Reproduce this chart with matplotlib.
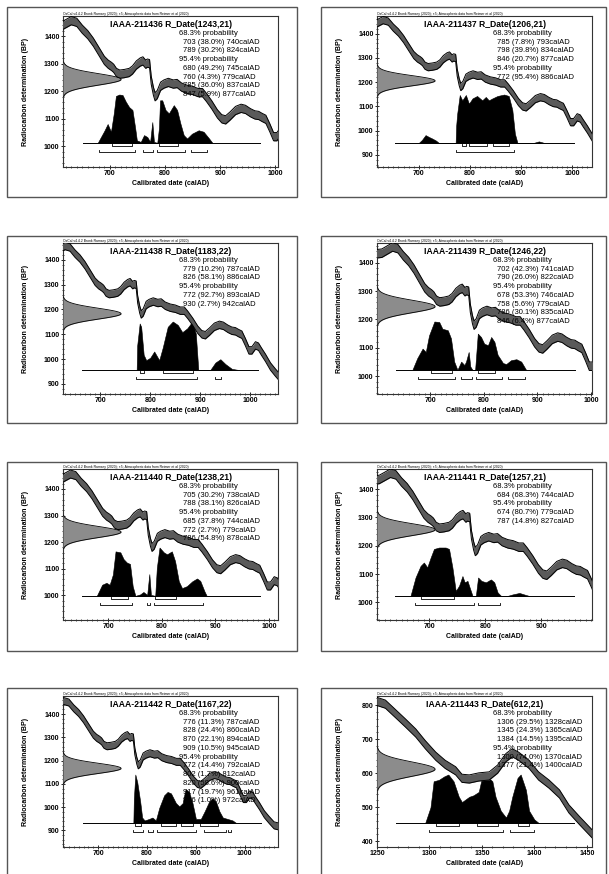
import numpy as np
import matplotlib
matplotlib.use("Agg")
import matplotlib.pyplot as plt
from matplotlib.patches import Rectangle
from matplotlib.ticker import MultipleLocator

plt.rcParams['font.family'] = ['Liberation Sans', 'DejaVu Sans']

# IntCal20 calibration curve, calAD / BP
cal_ad = [600, 610, 620, 630, 640, 650, 660, 670, 680, 690, 697, 703, 707, 712, 718,
          726, 735, 741, 748, 755, 760, 765, 768, 772, 775, 779, 782, 786, 792, 798,
          806, 815, 822, 830, 840, 850, 860, 868, 875, 885, 895, 903, 910, 918, 928,
          938, 946, 955, 963, 970, 976, 983, 990, 997, 1003, 1010, 1016, 1022, 1030,
          1040, 1050, 1060, 1068]
cal_bp = [1432, 1434, 1445, 1456, 1450, 1425, 1405, 1378, 1345, 1312, 1298, 1290, 1283,
          1268, 1262, 1264, 1268, 1277, 1295, 1306, 1310, 1298, 1302, 1300, 1240, 1200,
          1180, 1188, 1218, 1226, 1232, 1226, 1228, 1215, 1207, 1203, 1195, 1195, 1178,
          1150, 1118, 1100, 1096, 1110, 1130, 1138, 1134, 1122, 1114, 1112, 1105, 1098,
          1068, 1035, 1035, 1055, 1050, 1030, 1005, 970, 945, 922, 918]
cal_err = 15

cal2_ad = [1250, 1258, 1267, 1277, 1287, 1296, 1306, 1315, 1325, 1331, 1338, 1347, 1357,
           1365, 1373, 1379, 1385, 1395, 1404, 1414, 1424, 1433, 1443, 1455]
cal2_bp = [811, 803, 777, 748, 718, 684, 650, 626, 607, 585, 583, 589, 592, 612, 646, 660,
           650, 626, 592, 568, 539, 495, 461, 422]
cal2_err = 12

lab_codes = ['IAAA-211436', 'IAAA-211437', 'IAAA-211438', 'IAAA-211439',
             'IAAA-211440', 'IAAA-211441', 'IAAA-211442', 'IAAA-211443']
c14_age = [1243, 1206, 1183, 1246, 1238, 1257, 1167, 612]
c14_err = [21, 21, 22, 22, 21, 21, 22, 21]

x_lims = [(615, 1005), (618, 1039), (626, 1055), (601, 1002),
          (616, 1017), (606, 991), (628, 1068), (1250, 1455)]
y_lims = [(925, 1473), (850, 1473), (859, 1468), (937, 1470),
          (907, 1475), (938, 1471), (829, 1478), (383, 827)]
base_span = [(651, 973), (654, 1004), (664, 1016), (636, 970),
             (652, 984), (639, 959), (669, 1034), (1268, 1438)]

# calibrated probability distributions (relative height)
p1_ad = [678, 690, 696, 702, 707, 711, 717, 723, 729, 735, 741, 746, 749, 756, 762, 768,
         773, 777, 780, 786, 789, 791, 795, 801, 807, 816, 822, 828, 834, 840, 849, 861,
         870, 880, 886]
p1_pd = [0, 0.25, 0.39, 0.23, 0.6, 0.97, 1.0, 0.99, 0.85, 0.74, 0.68, 0.3, 0.05, 0.02,
         0.16, 0.12, 0.02, 0.43, 0.02, 0, 0.3, 0.88, 0.88, 0.68, 0.61, 0.78, 0.68, 0.40,
         0.16, 0.09, 0.19, 0.26, 0.23, 0.09, 0]
p2_ad = [700, 706, 713, 720, 726, 733, 739, 772, 773, 775, 780, 785, 792, 798, 805, 814,
         824, 831, 837, 844, 854, 867, 876, 883, 888, 893, 925, 935, 945]
p2_pd = [0, 0.06, 0.16, 0.12, 0.09, 0.05, 0, 0, 0.35, 0.6, 0.99, 0.88, 0.99, 0.81, 0.92,
         0.97, 0.88, 0.95, 0.88, 0.92, 0.97, 1.0, 0.97, 0.68, 0.19, 0, 0, 0.03, 0]
p3_ad = [773, 774, 779, 782, 787, 792, 800, 808, 818, 825, 835, 845, 855, 864, 874, 884,
         891, 896, 920, 930, 940, 950, 963, 975]
p3_pd = [0, 0.5, 0.96, 0.89, 0.31, 0.2, 0.25, 0.38, 0.20, 0.46, 0.89, 1.0, 0.93, 0.78,
         0.86, 1.0, 0.75, 0, 0, 0.15, 0.22, 0.12, 0.02, 0]
p4_ad = [667, 676, 686, 692, 698, 708, 717, 723, 733, 739, 745, 751, 758, 764, 767, 772,
         775, 779, 784, 789, 795, 801, 808, 814, 820, 826, 836, 842, 851, 861, 870, 879]
p4_pd = [0, 0.24, 0.44, 0.37, 0.71, 1.0, 0.99, 0.85, 0.82, 0.65, 0.17, 0, 0.17, 0.10,
         0.17, 0.37, 0.07, 0, 0, 0.75, 0.68, 0.54, 0.51, 0.68, 0.58, 0.31, 0.14, 0.12,
         0.2, 0.22, 0.17, 0]
p5_ad = [679, 689, 697, 703, 709, 714, 723, 729, 735, 741, 746, 751, 760, 766, 773, 777,
         780, 788, 791, 796, 804, 810, 819, 825, 832, 838, 847, 857, 866, 872, 880, 884]
p5_pd = [0, 0.23, 0.27, 0.23, 0.44, 0.92, 0.90, 0.76, 0.69, 0.66, 0.2, 0, 0.03, 0.08,
         0.02, 0.45, 0.02, 0, 0.58, 1.0, 0.9, 0.86, 0.92, 0.72, 0.3, 0.16, 0.2, 0.3, 0.36,
         0.31, 0.09, 0]
p6_ad = [666, 675, 684, 690, 696, 702, 708, 717, 729, 735, 741, 747, 753, 759, 763, 768,
         772, 777, 783, 787, 793, 801, 810, 816, 822, 828, 840, 849, 861, 872, 878]
p6_pd = [0, 0.38, 0.62, 0.69, 0.59, 0.79, 0.97, 1.0, 1.0, 0.97, 0.59, 0.1, 0.21, 0.41,
         0.28, 0.31, 0.17, 0, 0, 0.38, 0.31, 0.28, 0.34, 0.28, 0.07, 0, 0, 0.03, 0.06,
         0.02, 0]
p7_ad = [772, 773, 776, 780, 786, 790, 795, 804, 811, 818, 825, 835, 842, 849, 859, 866,
         873, 876, 879, 886, 893, 900, 910, 918, 927, 934, 941, 948, 955, 965, 975, 982]
p7_pd = [0, 0.5, 1.0, 0.84, 0.44, 0.11, 0.05, 0.08, 0.11, 0.05, 0.31, 0.57, 0.64, 0.61,
         0.41, 0.34, 0.41, 0.57, 0.70, 0.64, 0.41, 0.08, 0.08, 0.24, 0.44, 0.51, 0.44,
         0.24, 0.11, 0.08, 0.05, 0]
p8_ad = [1296, 1301, 1304, 1309, 1314, 1318, 1323, 1328, 1331, 1338, 1342, 1347, 1350,
         1355, 1360, 1363, 1368, 1373, 1376, 1379, 1384, 1387, 1392, 1395, 1400, 1404]
p8_pd = [0, 0.32, 0.86, 0.89, 0.96, 1.0, 0.86, 0.54, 0.43, 0.54, 0.57, 0.64, 0.93, 0.96,
         0.86, 0.54, 0.25, 0.11, 0.25, 0.54, 0.93, 1.0, 0.68, 0.25, 0.07, 0]

post_ad = [p1_ad, p2_ad, p3_ad, p4_ad, p5_ad, p6_ad, p7_ad, p8_ad]
post_pd = [p1_pd, p2_pd, p3_pd, p4_pd, p5_pd, p6_pd, p7_pd, p8_pd]

# ranges: (from, probability %, to)
ranges_68 = [
    [(703, 38.0, 740), (789, 30.2, 824)],
    [(785, 7.8, 793), (798, 39.8, 834), (846, 20.7, 877)],
    [(779, 10.2, 787), (826, 58.1, 886)],
    [(702, 42.3, 741), (790, 26.0, 822)],
    [(705, 30.2, 738), (788, 38.1, 826)],
    [(684, 68.3, 744)],
    [(776, 11.3, 787), (828, 24.4, 860), (870, 22.1, 894), (909, 10.5, 945)],
    [(1306, 29.5, 1328), (1345, 24.3, 1365), (1384, 14.5, 1395)],
]
ranges_95 = [
    [(680, 49.2, 745), (760, 4.3, 779), (785, 36.0, 837), (847, 5.9, 877)],
    [(772, 95.4, 886)],
    [(772, 92.7, 893), (930, 2.7, 942)],
    [(678, 53.3, 746), (758, 5.6, 779), (786, 30.1, 835), (846, 6.4, 877)],
    [(685, 37.8, 744), (772, 2.7, 779), (786, 54.8, 878)],
    [(674, 80.7, 779), (787, 14.8, 827)],
    [(772, 14.4, 792), (802, 1.7, 812), (820, 58.6, 900), (917, 19.7, 961), (966, 1.0, 972)],
    [(1300, 74.0, 1370), (1377, 21.4, 1400)],
]

header = "OxCal v4.4.2 Bronk Ramsey (2020); r:5; Atmospheric data from Reimer et al (2020)"

W, H = 609, 874
fig = plt.figure(figsize=(W / 100, H / 100), dpi=100)

col_left = [63, 377]
row_top = [16, 243, 469, 696]
ax_w, ax_h = 215, 151
frame_x = [(7, 297), (321, 606)]
frame_y = [(7, 197), (236, 423), (462, 651), (688, 880)]


def to_fig(l, t, r, b):
    return [l / W, 1 - b / H, (r - l) / W, (b - t) / H]


for i in range(8):
    row, col = i // 2, i % 2
    fx0, fx1 = frame_x[col]
    fy0, fy1 = frame_y[row]
    fig.patches.append(Rectangle((fx0 / W, 1 - fy1 / H), (fx1 - fx0) / W, (fy1 - fy0) / H,
                                 transform=fig.transFigure, fill=False, ec='#555555', lw=1.0))

    l, t = col_left[col], row_top[row]
    ax = fig.add_axes(to_fig(l, t, l + ax_w, t + ax_h))
    ax.set_xlim(*x_lims[i])
    ax.set_ylim(*y_lims[i])

    # calibrated distribution
    xt = ax.get_xaxis_transform()
    pd_ = np.array(post_pd[i])
    ax.fill_between(post_ad[i], 0.16, 0.16 + 0.32 * pd_, transform=xt,
                    color='black', lw=0.4, zorder=2)
    ax.plot(base_span[i], [0.16, 0.16], transform=xt, color='black', lw=0.7, zorder=2)

    # range brackets
    for yb, rr in ((0.137, ranges_68[i]), (0.10, ranges_95[i])):
        for a, p, b in rr:
            ax.plot([a, a, b, b], [yb + 0.014, yb, yb, yb + 0.014], transform=xt,
                    color='black', lw=0.6, zorder=2)

    # calibration curve band
    if i == 7:
        cx, cy, ce = np.array(cal2_ad), np.array(cal2_bp), cal2_err
    else:
        cx, cy, ce = np.array(cal_ad), np.array(cal_bp), cal_err
    ax.fill_between(cx, cy - ce, cy + ce, color='#5a5a5a', lw=0, zorder=3)
    ax.plot(cx, cy - ce, color='black', lw=0.7, zorder=3)
    ax.plot(cx, cy + ce, color='black', lw=0.7, zorder=3)

    # radiocarbon measurement
    mu, sd = c14_age[i], c14_err[i]
    yy = np.linspace(mu - 3 * sd, mu + 3 * sd, 121)
    g = np.exp(-0.5 * ((yy - mu) / sd) ** 2)
    yt = ax.get_yaxis_transform()
    ax.fill_betweenx(yy, 0, 0.27 * g, transform=yt, color='#8c8c8c', lw=0, zorder=4)
    ax.plot(0.27 * g, yy, transform=yt, color='black', lw=0.6, zorder=4)

    # texts
    ax.text(0.5, 0.945, f"{lab_codes[i]} R_Date({mu},{sd})", transform=ax.transAxes,
            ha='center', va='center', fontsize=6.2, fontweight='bold', zorder=6)
    lines = [("68.3% probability", 0.54)]
    lines += [(f"{a} ({p:.1f}%) {b}calAD", 0.56) for a, p, b in ranges_68[i]]
    lines += [("95.4% probability", 0.54)]
    lines += [(f"{a} ({p:.1f}%) {b}calAD", 0.56) for a, p, b in ranges_95[i]]
    for k, (s, xx) in enumerate(lines):
        ax.text(xx, 0.885 - 0.058 * k, s, transform=ax.transAxes, ha='left',
                va='center', fontsize=5.5, zorder=6)
    ax.text(0.0, 1.003, header, transform=ax.transAxes, ha='left', va='bottom',
            fontsize=2.4, zorder=6)

    # axes styling
    if i == 7:
        ax.xaxis.set_major_locator(MultipleLocator(50))
    else:
        ax.xaxis.set_major_locator(MultipleLocator(100))
    ax.xaxis.set_minor_locator(MultipleLocator(10))
    ax.yaxis.set_major_locator(MultipleLocator(100))
    ax.yaxis.set_minor_locator(MultipleLocator(20))
    ax.tick_params(which='major', direction='inout', length=3, width=0.6,
                   labelsize=5, pad=1)
    ax.tick_params(which='minor', direction='inout', length=1.6, width=0.5)
    for lab in ax.get_xticklabels() + ax.get_yticklabels():
        lab.set_fontweight('bold')
    for sp in ax.spines.values():
        sp.set_linewidth(0.8)
        sp.set_color('#333333')
    ax.set_xlabel("Calibrated date (calAD)", fontsize=5, fontweight='bold')
    ax.set_ylabel("Radiocarbon determination (BP)", fontsize=5, fontweight='bold')
    ax.xaxis.set_label_coords(0.5, -0.085)
    ax.yaxis.set_label_coords(-0.16, 0.5)

fig.savefig("out.png", dpi=100)
